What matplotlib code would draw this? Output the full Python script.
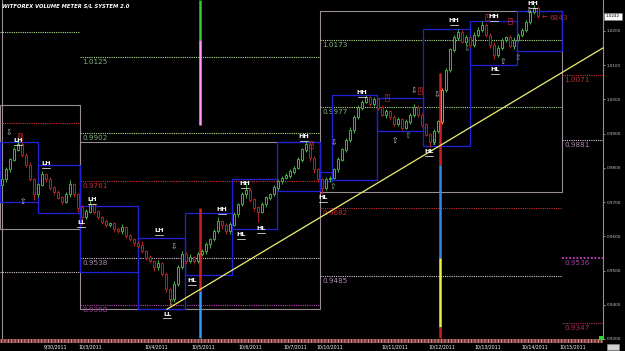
import numpy as np
import matplotlib
matplotlib.use("Agg")
import matplotlib.pyplot as plt
from matplotlib.patches import Rectangle
from matplotlib.transforms import blended_transform_factory

# ---------------------------------------------------------------------------
# Data (2H bars, 29 Sep - 14 Oct 2011)
# ---------------------------------------------------------------------------
FIRST_OPEN = 0.9750
PIP = 0.0001

CLOSES = [
    0.9766, 0.9795, 0.9824, 0.9853, 0.9868, 0.9838, 0.9809, 0.9766, 0.9722, 0.9751,
    0.9780, 0.9766, 0.9742, 0.9728, 0.9713, 0.9701, 0.9722, 0.9751, 0.9722, 0.9684,
    0.9655, 0.9672, 0.9693, 0.9672, 0.9655, 0.9643, 0.9632, 0.9637, 0.9620, 0.9614,
    0.9626, 0.9602, 0.9591, 0.9579, 0.9573, 0.9556, 0.9538, 0.9527, 0.9509, 0.9521,
    0.9489, 0.9445, 0.9416, 0.9460, 0.9509, 0.9547, 0.9527, 0.9538, 0.9527, 0.9547,
    0.9556, 0.9576, 0.9591, 0.9614, 0.9643, 0.9632, 0.9614, 0.9634, 0.9664, 0.9693,
    0.9722, 0.9736, 0.9707, 0.9684, 0.9672, 0.9693, 0.9713, 0.9722, 0.9742, 0.9760,
    0.9771, 0.9777, 0.9789, 0.9800, 0.9824, 0.9853, 0.9868, 0.9829, 0.9795, 0.9766,
    0.9742, 0.9766, 0.9771, 0.9795, 0.9824, 0.9853, 0.9882, 0.9911, 0.9947, 0.9976,
    0.9993, 1.0005, 0.9987, 0.9999, 0.9976, 0.9955, 0.9964, 0.9947, 0.9929, 0.9941,
    0.9917, 0.9935, 0.9955, 0.9976, 0.9955, 0.9926, 0.9897, 0.9876, 0.9906, 0.9935,
    1.0028, 1.0086, 1.0145, 1.0180, 1.0197, 1.0168, 1.0180, 1.0159, 1.0188, 1.0203,
    1.0217, 1.0188, 1.0159, 1.0130, 1.0150, 1.0174, 1.0180, 1.0156, 1.0174, 1.0188,
    1.0203, 1.0226, 1.0255, 1.0267, 1.0242,
]
# wick length above / below the body, in pips
WICK_HI = [
    6, 8, 5, 7, 14, 6, 5, 8, 4, 6,
    10, 5, 7, 4, 6, 5, 8, 12, 5, 4,
    6, 7, 12, 5, 6, 4, 8, 6, 5, 7,
    9, 4, 6, 5, 7, 12, 5, 6, 4, 9,
    5, 6, 4, 8, 7, 10, 6, 9, 5, 7,
    6, 8, 5, 7, 12, 5, 6, 9, 7, 5,
    6, 18, 5, 6, 4, 7, 6, 5, 8, 6,
    5, 7, 6, 5, 8, 6, 10, 5, 6, 4,
    5, 8, 6, 5, 7, 6, 5, 8, 6, 7,
    5, 8, 6, 9, 5, 6, 7, 5, 8, 6,
    5, 7, 6, 9, 8, 5, 6, 4, 7, 6,
    4, 6, 5, 8, 9, 5, 8, 6, 9, 7,
    12, 6, 5, 7, 8, 6, 5, 7, 9, 6,
    5, 7, 6, 9, 5,
]
WICK_LO = [
    5, 7, 6, 4, 5, 6, 8, 5, 15, 6,
    5, 7, 6, 8, 5, 6, 5, 7, 8, 12,
    21, 6, 5, 7, 6, 8, 5, 6, 7, 5,
    6, 8, 5, 7, 6, 5, 7, 6, 9, 8,
    6, 8, 21, 7, 5, 6, 8, 5, 7, 6,
    5, 7, 9, 6, 5, 10, 7, 6, 5, 8,
    6, 9, 8, 10, 30, 5, 7, 6, 5, 8,
    6, 5, 7, 6, 5, 7, 6, 9, 10, 8,
    20, 6, 8, 5, 6, 5, 7, 6, 8, 5,
    6, 5, 7, 6, 8, 5, 9, 6, 7, 8,
    6, 5, 7, 6, 7, 8, 5, 14, 7, 5,
    6, 8, 5, 7, 6, 5, 10, 6, 5, 7,
    6, 5, 8, 12, 6, 5, 7, 6, 8, 5,
    6, 5, 7, 6, 5,
]
BREAKOUT_BAR = 110

DATE_POS = [13.5, 22, 38.5, 50.25, 62, 73.25, 82, 98.25, 110, 121.5, 133.25, 142.75]
DATE_LABELS = ["9/30/2011", "10/3/2011", "10/4/2011", "10/5/2011", "10/6/2011",
               "10/7/2011", "10/10/2011", "10/11/2011", "10/12/2011", "10/13/2011",
               "10/14/2011", "10/15/2011"]

YTICKS = [0.93, 0.94, 0.95, 0.96, 0.97, 0.98, 0.99, 1.00, 1.01, 1.02]
LAST_PRICE = 1.0242

# period boxes (start bar, end bar, top, bottom)
PERIOD_BOXES = [
    (-0.5, 19.5, 0.9984, 0.9620),
    (19.5, 79.5, 0.9876, 0.9387),
    (79.5, 140.0, 1.0258, 0.9728),
]

# period levels (start bar, end bar, price, kind, labelled)
LEVELS = [
    (-0.5, 19.5, 1.0197, "green", False),
    (-0.5, 19.5, 0.9932, "red", False),
    (-0.5, 19.5, 0.9497, "pale", False),
    (19.5, 79.5, 1.0125, "green", True),
    (19.5, 79.5, 0.9902, "green", True),
    (19.5, 79.5, 0.9761, "red", True),
    (19.5, 79.5, 0.9538, "pale", True),
    (19.5, 79.5, 0.9398, "magenta", True),
    (79.5, 140.0, 1.0173, "green", True),
    (79.5, 140.0, 0.9977, "green", True),
    (79.5, 140.0, 0.9682, "red", True),
    (79.5, 140.0, 0.9485, "pale", True),
    (140.0, 150.25, 1.0071, "red", True),
    (140.0, 150.25, 0.9881, "pale", True),
    (140.0, 150.25, 0.9536, "magenta", True),
    (140.0, 150.25, 0.9347, "crimson", True),
]

# swing boxes (start bar, end bar, top, bottom)
SWING_BOXES = [
    (-0.5, 9.0, 0.9876, 0.9699),
    (9.0, 19.5, 0.9809, 0.9669),
    (19.5, 34.0, 0.9687, 0.9495),
    (34.0, 45.75, 0.9596, 0.9387),
    (45.75, 57.5, 0.9667, 0.9486),
    (57.5, 68.75, 0.9766, 0.9620),
    (68.75, 79.5, 0.9876, 0.9731),
    (79.5, 82.5, 0.9789, 0.9760),
    (82.5, 93.75, 1.0013, 0.9763),
    (93.75, 105.25, 1.0005, 0.9906),
    (105.25, 117.0, 1.0206, 0.9865),
    (117.0, 128.75, 1.0229, 1.0101),
    (128.75, 140.0, 1.0258, 1.0142),
]

SWING_LABELS = [
    ("LH", 4.0, 0.9879), ("LH", 11.0, 0.9812), ("LH", 22.5, 0.9707),
    ("LL", 19.75, 0.9640), ("LH", 39.25, 0.9617), ("LL", 41.25, 0.9372),
    ("HL", 47.5, 0.9471), ("HH", 55.0, 0.9678), ("HL", 59.75, 0.9605),
    ("HH", 60.75, 0.9754), ("HL", 64.75, 0.9623), ("HH", 75.5, 0.9891),
    ("HL", 80.25, 0.9713), ("HH", 90.0, 1.0019), ("HL", 106.75, 0.9847),
    ("HH", 113.0, 1.0229), ("HH", 123.0, 1.0241), ("HL", 123.25, 1.0086),
    ("HH", 132.75, 1.0279),
]

# volume arrows (bar, price, direction, colour)
ARROWS = [
    (1.75, 0.9900, "down", "#c8c8c8"), (5.25, 0.9701, "up", "#c8c8c8"),
    (43.0, 0.9567, "down", "#c8c8c8"), (42.25, 0.9407, "up", "#7fb07f"),
    (83.0, 0.9871, "down", "#c8c8c8"), (82.75, 0.9745, "up", "#7fb07f"),
    (98.25, 0.9879, "up", "#c8c8c8"), (101.5, 0.9894, "up", "#7fb07f"),
    (103.0, 1.0025, "down", "#c8c8c8"), (108.75, 1.0013, "down", "#c8c8c8"),
    (108.0, 0.9873, "up", "#7fb07f"), (116.25, 1.0147, "down", "#7fb07f"),
    (125.25, 1.0110, "up", "#c8c8c8"), (129.0, 1.0121, "up", "#7fb07f"),
    (131.75, 1.0258, "down", "#c8c8c8"),
]

RED_MARKS = [
    (4.5, 0.9891, "0"), (77.25, 0.9868, "0"), (96.25, 1.0005, "1"),
    (104.5, 1.0025, "1"), (121.25, 1.0241, "1"), (127.0, 1.0229, "2"),
]

# volume-meter indicator columns (bar, from, to, colour)
METER_SEGMENTS = [
    (49.5, 1.0290, 1.0174, "#33cc33"),
    (49.5, 1.0174, 0.9926, "#ff99ff"),
    (49.5, 0.9684, 0.9440, "#d02020"),
    (49.5, 0.9440, 0.9302, "#3399ff"),
    (109.5, 1.0077, 0.9809, "#d02020"),
    (109.5, 0.9809, 0.9538, "#3388ee"),
    (109.5, 0.9538, 0.9334, "#f0f040"),
    (109.5, 0.9334, 0.9302, "#d02020"),
]

TREND_X = [41.25, 150.25]
TREND_Y = [0.9387, 1.0150]

# ---------------------------------------------------------------------------
# Styling
# ---------------------------------------------------------------------------
BULL = "#44b044"
BEAR = "#b02424"
ORANGE = "#ff7a3a"
BOX_GRAY = "#9a8c94"
SWING_BLUE = "#2222d8"
LEVEL_LINE = {"green": "#b5e08a", "red": "#c83232", "pale": "#dcc4dc",
              "magenta": "#c040c0", "crimson": "#b03060"}
LEVEL_TEXT = {"green": "#7fb07f", "red": "#b83030", "pale": "#a888a8",
              "magenta": "#a040a0", "crimson": "#b03050"}
NARROW = ["Liberation Sans Narrow", "DejaVu Sans"]

fig = plt.figure(figsize=(6.25, 3.51), dpi=100, facecolor="black")
ax = fig.add_axes([0, 12 / 351, 603 / 625, 339 / 351])
ax.set_facecolor("black")
ax.set_xlim(-0.5, 150.25)
ax.set_ylim(0.9302, 1.0290)

# period boxes and levels
for x0, x1, top, bot in PERIOD_BOXES:
    ax.add_patch(Rectangle((x0, bot), x1 - x0, top - bot, fill=False,
                           edgecolor=BOX_GRAY, lw=0.8, zorder=1))
ax.axvline(-0.1, color=BOX_GRAY, lw=0.8, zorder=1)

for x0, x1, price, kind, labelled in LEVELS:
    lw = 1.3 if kind == "magenta" and x0 >= 140 else 0.8
    ax.plot([x0, x1], [price, price], color=LEVEL_LINE[kind], lw=lw,
            ls=(0, (1, 1)), zorder=2)
    if labelled:
        ax.text(x0 + 0.6, price - 0.0006, f"{price:.4f}", ha="left", va="top",
                fontsize=5.2, color=LEVEL_TEXT[kind], zorder=2)

# swing boxes
for x0, x1, top, bot in SWING_BOXES:
    ax.add_patch(Rectangle((x0, bot), x1 - x0, top - bot, fill=False,
                           edgecolor=SWING_BLUE, lw=0.9, zorder=2))

# volume meter columns
for xb, y0, y1, col in METER_SEGMENTS:
    ax.plot([xb, xb], [y0, y1], color=col, lw=1.8, solid_capstyle="butt", zorder=3)

# candles
opens = np.array([FIRST_OPEN] + CLOSES[:-1])
closes = np.array(CLOSES)
highs = np.maximum(opens, closes) + np.array(WICK_HI) * PIP
lows = np.minimum(opens, closes) - np.array(WICK_LO) * PIP
xs = np.arange(len(closes))
colors = np.where(closes >= opens, BULL, BEAR).astype(object)
colors[BREAKOUT_BAR] = ORANGE
ax.vlines(xs, lows, highs, colors=list(colors), lw=0.7, zorder=4)
ax.bar(xs, np.abs(closes - opens) + 0.00005, bottom=np.minimum(opens, closes),
       width=0.65, facecolor="black", edgecolor=list(colors), linewidth=0.7, zorder=5)

# trend line
ax.plot(TREND_X, TREND_Y, color="#f0f070", lw=0.9, zorder=6, clip_on=False)

# swing labels
for txt, xb, price in SWING_LABELS:
    ax.text(xb, price, txt, ha="center", va="center", fontsize=4.6,
            fontweight="bold", color="white", zorder=8)
    ax.plot([xb - 1.1, xb + 1.1], [price - 0.0012] * 2, color="white", lw=0.5, zorder=8)

for xb, price, d, col in ARROWS:
    ax.text(xb, price, "\u21e7" if d == "up" else "\u21e9", ha="center", va="center",
            fontsize=5.5, color=col, zorder=7)

for xb, price, txt in RED_MARKS:
    ax.text(xb, price, txt, ha="center", va="center", fontsize=3.6, color="#d03030",
            zorder=7, bbox=dict(boxstyle="square,pad=0.15", fc="none", ec="#d03030", lw=0.4))

ax.text(135.6, 1.0238, "\u2190", ha="center", va="center", fontsize=5, color="#d03030", zorder=7)
ax.text(137.0, 1.0238, "6843", ha="left", va="center", fontsize=5.2, color="#b03030", zorder=7)

# title
ax.text(0.004, 0.99, "WITFOREX VOLUME METER S/L SYSTEM 2.0", transform=ax.transAxes,
        ha="left", va="top", fontsize=3.8, fontweight="bold", fontstyle="italic",
        color="white", family=NARROW)

# axes
for side in ("left", "top", "bottom"):
    ax.spines[side].set_visible(False)
ax.spines["right"].set_color("#909090")
ax.spines["right"].set_linewidth(0.8)
ax.yaxis.tick_right()
ax.set_yticks(YTICKS, [f"{v:.4f}" for v in YTICKS])
ax.tick_params(axis="y", length=1.5, width=0.5, colors="#c8c8c8", labelsize=3.0, pad=1.2)
ax.set_xticks(DATE_POS, DATE_LABELS)
ax.tick_params(axis="x", length=0, colors="white", labelsize=3.3, pad=4.2)
for lab in ax.get_xticklabels() + ax.get_yticklabels():
    lab.set_family(NARROW)

trans = blended_transform_factory(ax.transAxes, ax.transData)
ax.text(1.0166, LAST_PRICE, f"{LAST_PRICE:.4f}", transform=trans, ha="center", va="center",
        fontsize=3.0, color="black", family=NARROW,
        bbox=dict(boxstyle="square,pad=0.35", fc="white", ec="#808080", lw=0.4))

# date strip and corner widgets
plt.rcParams["hatch.linewidth"] = 0.6
fig.patches.append(Rectangle((0, 8 / 351), 603 / 625, 4 / 351, transform=fig.transFigure,
                             facecolor="#7a3a3a", edgecolor="#e0a0a0", hatch="|||||", lw=0))
fig.patches.append(Rectangle((599 / 625, 11 / 351), 4 / 625, 4 / 351, transform=fig.transFigure,
                             facecolor="#30d030", lw=0))
fig.patches.append(Rectangle((607 / 625, 1 / 351), 12 / 625, 6 / 351, transform=fig.transFigure,
                             facecolor="#d0d0d0", edgecolor="#909090", lw=0.4))

fig.savefig("out.png", dpi=100, facecolor="black")
